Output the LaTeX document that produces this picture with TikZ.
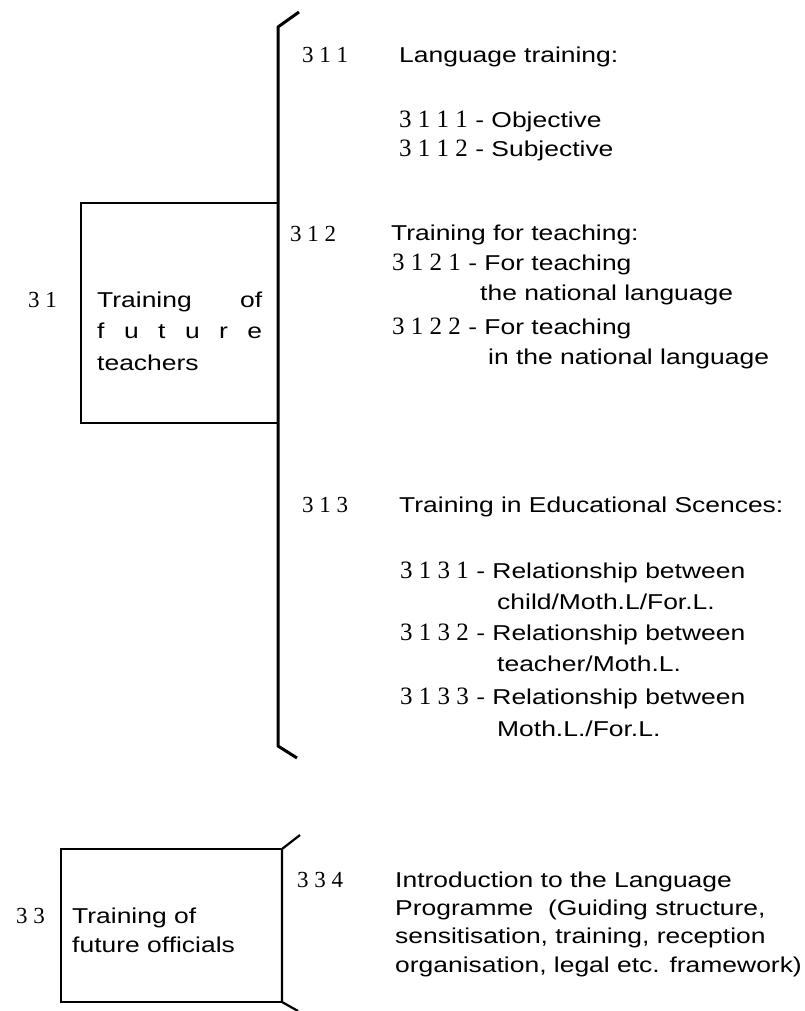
\documentclass[tikz,border=0pt]{standalone}
\usepackage{fontspec}
\setmainfont{Liberation Sans}[FakeStretch=1.23]
\newfontfamily\numfont{Liberation Serif}
\usetikzlibrary{positioning}

\newcommand{\numlbl}[1]{{\numfont\fontsize{25}{28}\selectfont #1}}

\tikzset{
  numtxt/.style={anchor=base west, inner sep=0pt, font=\numfont\fontsize{23}{28}\selectfont},
  plaintxt/.style={anchor=base west, inner sep=0pt, font=\fontsize{21.5}{28}\selectfont},
  framebox/.style={draw, line width=1.6pt, inner sep=0pt},
  bracket/.style={line width=3pt, line join=round},
}

\begin{document}
\begin{tikzpicture}[x=1pt, y=-1pt]
  \useasboundingbox (0,0) rectangle (805,1011);

  % Box 31 and its bracket
  \node [framebox, minimum width=197pt, minimum height=220pt] (box31) at (179.5,313) {};
  \draw [bracket] (299,12) -- (278,27) -- (278,746) -- (297,758);
  \node [numtxt] (n31) at (28,307) {3 1};
  \node [plaintxt] (t31a) at (97,307) {\makebox[165pt][s]{Training\hfill of}};
  \node [plaintxt] (t31b) at (97,338) {\makebox[165pt][s]{f\hfill u\hfill t\hfill u\hfill r\hfill e}};
  \node [plaintxt] (t31c) at (97,370) {teachers};

  % 311
  \node [numtxt] (n311) at (302,63) {3 1 1};
  \node [plaintxt] (t311) at (399,63) {Language training:};
  \node [plaintxt] (t3111) at (399,128) {\numlbl{3 1 1 1} - Objective};
  \node [plaintxt] (t3112) at (399,157) {\numlbl{3 1 1 2} - Subjective};

  % 312
  \node [numtxt] (n312) at (290,241) {3 1 2};
  \node [plaintxt] (t312) at (391,240) {Training for teaching:};
  \node [plaintxt] (t3121) at (392,270) {\numlbl{3 1 2 1} - For teaching};
  \node [plaintxt] (t3121b) at (480,300) {the national language};
  \node [plaintxt] (t3122) at (392,334) {\numlbl{3 1 2 2} - For teaching};
  \node [plaintxt] (t3122b) at (488,364) {in the national language};

  % 313
  \node [numtxt] (n313) at (302,512) {3 1 3};
  \node [plaintxt] (t313) at (399,512) {Training in Educational Scences:};
  \node [plaintxt] (t3131) at (400,578) {\numlbl{3 1 3 1} - Relationship between};
  \node [plaintxt] (t3131b) at (497,609) {child/Moth.L/For.L.};
  \node [plaintxt] (t3132) at (400,640) {\numlbl{3 1 3 2} - Relationship between};
  \node [plaintxt] (t3132b) at (497,671) {teacher/Moth.L.};
  \node [plaintxt] (t3133) at (400,704) {\numlbl{3 1 3 3} - Relationship between};
  \node [plaintxt] (t3133b) at (497,736) {Moth.L./For.L.};

  % Box 33 and its bracket
  \node [framebox, minimum width=221pt, minimum height=153pt] (box33) at (171.5,925.5) {};
  \draw [bracket, line width=2.2pt] (300,835) -- (282,849) -- (282,1002) -- (298,1011);
  \node [numtxt] (n33) at (16,923) {3 3};
  \node [plaintxt] (t33a) at (72,923) {Training of};
  \node [plaintxt] (t33b) at (72,952) {future officials};

  % 334
  \node [numtxt] (n334) at (297,887) {3 3 4};
  \node [plaintxt] (t334a) at (395,887) {Introduction to the Language};
  \node [plaintxt] (t334b) at (395,915) {Programme\ \ (Guiding structure,};
  \node [plaintxt] (t334c) at (395,943) {sensitisation, training, reception};
  \node [plaintxt] (t334d) at (395,972) {organisation, legal etc. framework)};
\end{tikzpicture}
\end{document}
